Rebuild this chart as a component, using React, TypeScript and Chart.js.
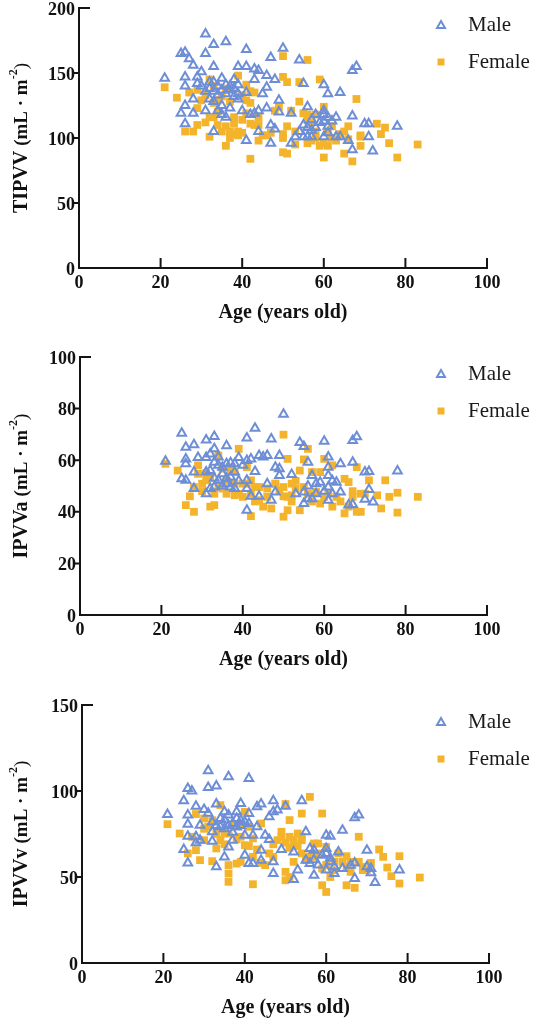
import React, { useEffect, useRef } from "react";
import { Chart, registerables } from "chart.js";

Chart.register(...registerables);

// ---- shared axis data ----
const AGE_TICKS = [0, 20, 40, 60, 80, 100];
const AGE_TITLE = "Age (years old)";
const SERIES_NAMES = ["Male", "Female"];
const MALE_COLOR = "#6d8ed6";
const FEMALE_COLOR = "#f3b42b";

// ---- TIPVV panel: [age, value] ----
const TIPVV_TICKS = [0, 50, 100, 150, 200];
const tipvvMale: [number, number][] = [
  [21, 146], [25, 165], [26, 166], [27, 161], [31, 180], [31, 165], [33, 172], [36, 174],
  [33, 155], [28, 156], [30, 151], [26, 147], [29, 147], [29, 142], [26, 140], [41, 168],
  [39, 155], [41, 155], [47, 162], [50, 169], [54, 160], [43, 153], [44, 152], [46, 148],
  [48, 145], [43, 145], [46, 139], [45, 134], [55, 142], [60, 141], [61, 134], [64, 135],
  [67, 152], [68, 155], [67, 117], [70, 111], [71, 111], [78, 109], [71, 101], [72, 90],
  [67, 91], [66, 98], [64, 101], [63, 101], [60, 101], [61, 109], [61, 116], [63, 116],
  [60, 121], [60, 118], [56, 124], [55, 110], [56, 108], [57, 114], [58, 118], [54, 105],
  [55, 101], [56, 101], [57, 101], [53, 101], [52, 96], [52, 119], [49, 120], [49, 129],
  [47, 110], [48, 107], [47, 96], [44, 105], [41, 98], [42, 118], [43, 119], [44, 121],
  [46, 123], [40, 121], [41, 135], [39, 134], [38, 145], [38, 132], [37, 123], [36, 116],
  [35, 118], [34, 121], [33, 105], [31, 121], [32, 130], [32, 143], [33, 143], [34, 140],
  [35, 146], [35, 137], [36, 134], [37, 140], [28, 130], [28, 119], [26, 125], [25, 119],
  [26, 111], [33, 136], [31, 136], [30, 140], [39, 141], [32, 138], [34, 133], [36, 141],
  [37, 137], [38, 138], [39, 130], [33, 128], [35, 125], [58, 108], [59, 112], [62, 113],
  [61, 104], [57, 106], [60, 113],
];
const tipvvFemale: [number, number][] = [
  [21, 139], [24, 131], [26, 105], [28, 105], [29, 110], [27, 135], [29, 137], [32, 101],
  [33, 116], [32, 145], [34, 129], [36, 109], [36, 94], [37, 105], [38, 103], [39, 105],
  [39, 148], [41, 141], [41, 129], [42, 136], [42, 111], [43, 110], [42, 84], [44, 98],
  [46, 102], [50, 163], [50, 147], [51, 143], [50, 103], [50, 100], [50, 89], [51, 88],
  [53, 95], [54, 128], [54, 143], [56, 160], [56, 114], [56, 96], [57, 98], [59, 145],
  [60, 124], [59, 94], [60, 85], [61, 94], [62, 109], [65, 88], [66, 109], [67, 82],
  [68, 130], [69, 101], [69, 94], [73, 111], [74, 103], [75, 108], [76, 96], [78, 85],
  [83, 95], [32, 116], [29, 123], [30, 129], [33, 127], [35, 132], [38, 116], [38, 111],
  [40, 114], [42, 127], [44, 116], [48, 121], [49, 124], [52, 121], [55, 119], [56, 118],
  [58, 118], [61, 105], [64, 103], [65, 105], [69, 102], [53, 105], [51, 109], [58, 105],
  [35, 105], [39, 102], [45, 102], [31, 133], [33, 140], [34, 120], [36, 138], [37, 128],
  [40, 133], [41, 119], [43, 135], [44, 110], [47, 104], [57, 112], [58, 100], [60, 96],
  [62, 100], [63, 98], [66, 99], [31, 112], [34, 110], [37, 100], [40, 104],
];

// ---- IPVVa panel: [age, value] ----
const IPVVA_TICKS = [0, 20, 40, 60, 80, 100];
const ipvvaMale: [number, number][] = [
  [21, 59.6], [25, 70.4], [26, 65], [26, 60.5], [26, 58.6], [25, 52.8], [26, 52.2], [28, 66],
  [28, 55.4], [28, 49], [29, 61], [31, 67.8], [33, 69.2], [31, 61], [32, 62.4], [33, 64.4],
  [33, 59.2], [31, 55.4], [31, 47], [32, 49], [33, 49.6], [34, 52.2], [35, 57.3], [36, 65.6],
  [35, 54.7], [36, 50.9], [37, 53.5], [38, 55.4], [38, 49], [38, 58.6], [39, 61], [41, 68.6],
  [41, 59.9], [42, 60.5], [43, 72.4], [41, 52.2], [41, 49], [41, 40.6], [42, 46], [44, 46],
  [43, 55.6], [44, 61.8], [45, 61.2], [46, 61.8], [47, 68.2], [46, 50.9], [47, 44.5], [48, 47.7],
  [48, 57.3], [49, 61.8], [49, 56.7], [49, 54.1], [50, 77.8], [52, 54.5], [53, 47], [54, 66.9],
  [55, 65.3], [56, 59.2], [55, 47.7], [55, 43.2], [57, 54.1], [58, 50.9], [56, 45.1], [57, 45.1],
  [60, 67.3], [61, 61.2], [61, 57.3], [61, 54.1], [59, 51.5], [61, 49.6], [61, 44.5], [62, 47],
  [63, 51.5], [64, 58.6], [64, 47.7], [67, 67.6], [68, 69.1], [67, 59.2], [66, 42.6], [67, 42.8],
  [70, 55.4], [71, 55.6], [71, 48.6], [70, 44.9], [72, 43.8], [78, 55.8], [36, 58.6], [34, 61.2],
  [37, 49.6], [32, 56], [33, 53], [34, 58], [35, 50], [36, 53], [37, 59], [39, 52],
  [40, 58], [56, 50], [58, 47], [60, 48], [62, 52],
];
const ipvvaFemale: [number, number][] = [
  [21, 58.6], [24, 56], [26, 42.6], [27, 46], [28, 40], [29, 54.7], [29, 58], [31, 52.2],
  [32, 42], [33, 42.6], [34, 61.8], [35, 56.7], [36, 47], [38, 46.4], [39, 64.4], [40, 45.8],
  [41, 57.3], [42, 38.3], [43, 49.6], [45, 42], [47, 41.3], [48, 50.9], [50, 69.9], [51, 60.5],
  [50, 38.1], [51, 40.6], [52, 46.4], [54, 40.6], [54, 56], [55, 60.3], [56, 64.4], [57, 55.4],
  [59, 55.4], [60, 60.5], [60, 45.8], [62, 42], [62, 58], [65, 39.4], [65, 52.8], [66, 51.5],
  [67, 45.8], [68, 57.3], [68, 40], [69, 40], [69, 47], [71, 52.2], [73, 46.4], [74, 41.3],
  [75, 52.2], [76, 45.8], [78, 47.4], [78, 39.7], [83, 45.8], [28, 49.6], [30, 50.9], [32, 53.5],
  [37, 56], [38, 50.9], [40, 50.9], [42, 52.2], [44, 49.6], [48, 50.9], [49, 48.3], [50, 49.6],
  [51, 45.8], [52, 50.9], [53, 49], [55, 49.6], [58, 47.7], [59, 43.2], [63, 45.8], [66, 42],
  [44, 44.5], [46, 45.8], [38, 55.4], [41, 50.9], [30, 48], [31, 55], [33, 47], [34, 50],
  [35, 49], [36, 52], [39, 47], [42, 47], [43, 44], [46, 49], [50, 46], [52, 44],
  [53, 52], [56, 47], [57, 44], [61, 47], [64, 44], [67, 48], [70, 47],
];

// ---- IPVVv panel: [age, value] ----
const IPVVV_TICKS = [0, 50, 100, 150];
const ipvvvMale: [number, number][] = [
  [21, 86.4], [25, 94.3], [26, 101.5], [27, 100], [26, 86], [26, 80.7], [26, 73.7], [25, 66],
  [26, 58.2], [28, 91.2], [28, 73.4], [28, 69.9], [29, 80.1], [30, 89.3], [31, 111.8], [31, 102],
  [33, 102.9], [36, 108.3], [41, 107.3], [33, 92.4], [35, 87.9], [35, 83.1], [31, 87], [32, 82],
  [32, 76.3], [32, 70.8], [33, 55.9], [35, 61.7], [36, 67.5], [37, 71.4], [37, 81.1], [38, 84],
  [39, 83], [39, 92.8], [40, 74.3], [40, 62.7], [41, 57.8], [42, 57.8], [42, 74.3], [43, 79.2],
  [43, 90.8], [44, 92.4], [41, 86.9], [41, 81.1], [44, 65.6], [44, 59.8], [45, 74.3], [46, 71.8],
  [46, 85], [47, 87.9], [47, 94.3], [48, 88.9], [50, 91.2], [49, 66], [47, 58.8], [47, 52],
  [52, 64.6], [52, 48.5], [53, 54], [54, 94.3], [55, 76.3], [55, 59.8], [56, 66.6], [57, 65.6],
  [56, 57.8], [57, 51], [59, 62.7], [60, 74.3], [61, 73.7], [60, 66.6], [60, 63.7], [60, 54],
  [61, 58.8], [62, 52], [63, 64.6], [64, 77.2], [64, 54.9], [66, 56.9], [67, 58.2], [67, 49.1],
  [67, 84.4], [68, 86], [70, 65.6], [70, 55.9], [71, 52.4], [72, 46.8], [78, 54], [71, 54.9],
  [29, 71.4], [34, 79.2], [36, 86], [38, 87.9], [33, 80], [34, 84], [35, 78], [36, 80],
  [37, 76], [38, 79], [39, 80], [40, 82], [57, 60], [58, 57], [61, 61], [62, 56],
];
const ipvvvFemale: [number, number][] = [
  [21, 80.7], [24, 75.3], [26, 63.7], [28, 65.6], [29, 59.8], [28, 86.6], [32, 59.2], [33, 66.6],
  [30, 71.4], [36, 56.9], [36, 47.2], [36, 52], [34, 91.8], [38, 57.8], [39, 58.8], [40, 87.9],
  [40, 68.5], [42, 45.8], [42, 61.7], [44, 58.2], [45, 56.9], [47, 61.7], [49, 76.3], [50, 92.4],
  [51, 83.1], [50, 53], [50, 48.1], [51, 50], [51, 73.4], [52, 71.4], [53, 75.3], [54, 86.9],
  [54, 73.4], [54, 63.7], [52, 58.8], [56, 96.6], [57, 69.5], [58, 69.5], [59, 86.9], [59, 45.2],
  [60, 41.3], [59, 54.9], [61, 50], [62, 58.8], [65, 62.1], [65, 45.2], [67, 43.7], [66, 53],
  [68, 73.4], [69, 54], [71, 58.2], [73, 66], [74, 61.7], [75, 55.5], [76, 50.5], [78, 62.1],
  [78, 46.2], [83, 49.7], [27, 73.4], [30, 84], [31, 79.2], [34, 71.4], [35, 75.3], [36, 75.3],
  [39, 73.4], [39, 81.1], [41, 79.2], [42, 72.4], [44, 81.1], [46, 63.7], [48, 71.4], [49, 73.4],
  [52, 69.5], [54, 71.4], [55, 59.8], [57, 61.7], [58, 63.7], [60, 67.5], [63, 63.7], [64, 58.8],
  [66, 58.8], [68, 58.8], [69, 55.9], [30, 78], [32, 83], [33, 75], [35, 69], [37, 80],
  [38, 72], [41, 68], [43, 66], [47, 69], [50, 70], [51, 67], [53, 68], [56, 62],
  [60, 57], [62, 54], [65, 56], [70, 54],
];

const SERIF = '"Liberation Serif", "Times New Roman", serif';

type PanelSpec = {
  name: string;
  yTicks: number[];
  male: [number, number][];
  female: [number, number][];
  height: number;
  area: { left: number; right: number; top: number; bottom: number };
};

const PANELS: PanelSpec[] = [
  { name: "TIPVV", yTicks: TIPVV_TICKS, male: tipvvMale, female: tipvvFemale, height: 349,
    area: { left: 79, right: 487, top: 8, bottom: 268 } },
  { name: "IPVVa", yTicks: IPVVA_TICKS, male: ipvvaMale, female: ipvvaFemale, height: 349,
    area: { left: 80, right: 487, top: 8, bottom: 266 } },
  { name: "IPVVv", yTicks: IPVVV_TICKS, male: ipvvvMale, female: ipvvvFemale, height: 328,
    area: { left: 82, right: 489, top: 7, bottom: 265 } },
];

const WIDTH = 537;

// Draws the L-shaped frame, tick marks, tick labels, axis titles and legend.
const frameAxesPlugin = {
  id: "frameAxes",
  afterDraw(chart: any, _args: any, opts: any) {
    const { ctx, scales } = chart;
    const xs = scales.x;
    const ys = scales.y;
    const yTicks: number[] = opts.yTicks;
    const left = xs.getPixelForValue(0);
    const right = xs.getPixelForValue(100);
    const bottom = ys.getPixelForValue(0);
    const top = ys.getPixelForValue(yTicks[yTicks.length - 1]);

    ctx.save();
    ctx.strokeStyle = "#141414";
    ctx.lineWidth = 2;
    ctx.lineCap = "square";
    ctx.beginPath();
    ctx.moveTo(left, top);
    ctx.lineTo(left, bottom);
    ctx.lineTo(right, bottom);
    ctx.stroke();

    // y ticks: outward, the top one turns inward
    ctx.beginPath();
    yTicks.forEach((v, i) => {
      const py = ys.getPixelForValue(v);
      if (i === yTicks.length - 1) {
        ctx.moveTo(left, py);
        ctx.lineTo(left + 10, py);
      } else if (v !== 0) {
        ctx.moveTo(left - 6, py);
        ctx.lineTo(left, py);
      }
    });
    // x ticks point upward into the plot
    AGE_TICKS.forEach((v) => {
      if (v === 0) return;
      const px = xs.getPixelForValue(v);
      ctx.moveTo(px, bottom);
      ctx.lineTo(px, bottom - 9);
    });
    ctx.stroke();

    ctx.fillStyle = "#111";
    ctx.font = `bold 18px ${SERIF}`;
    ctx.textAlign = "right";
    ctx.textBaseline = "middle";
    yTicks.forEach((v) => {
      ctx.fillText(String(v), left - 4, ys.getPixelForValue(v) + 2);
    });
    ctx.textAlign = "center";
    AGE_TICKS.forEach((v) => {
      ctx.fillText(String(v), xs.getPixelForValue(v), bottom + 15);
    });

    // x title
    ctx.font = `bold 20px ${SERIF}`;
    ctx.fillText(AGE_TITLE, (left + right) / 2, bottom + 45);

    // y title with superscript unit
    const parts = [
      { t: opts.name + " ", f: `bold 20px ${SERIF}`, dy: 0 },
      { t: "(mL · m", f: `bold 19px ${SERIF}`, dy: 0 },
      { t: "-2", f: `bold 12px ${SERIF}`, dy: -8 },
      { t: ")", f: `19px ${SERIF}`, dy: 0 },
    ];
    let total = 0;
    parts.forEach((p) => {
      ctx.font = p.f;
      total += ctx.measureText(p.t).width;
    });
    ctx.save();
    ctx.translate(22, (top + bottom) / 2);
    ctx.rotate(-Math.PI / 2);
    ctx.textAlign = "left";
    let cx = -total / 2;
    parts.forEach((p) => {
      ctx.font = p.f;
      ctx.fillText(p.t, cx, p.dy);
      cx += ctx.measureText(p.t).width;
    });
    ctx.restore();

    // legend
    const lx = 441;
    const rows = [top + 17, top + 54];
    ctx.font = `21px ${SERIF}`;
    ctx.textAlign = "left";
    ctx.fillStyle = "#1a1a1a";
    ctx.fillText(SERIES_NAMES[0], 468, rows[0]);
    ctx.fillText(SERIES_NAMES[1], 468, rows[1]);
    ctx.strokeStyle = MALE_COLOR;
    ctx.lineWidth = 2;
    ctx.beginPath();
    ctx.moveTo(lx, rows[0] - 4);
    ctx.lineTo(lx + 4, rows[0] + 3);
    ctx.lineTo(lx - 4, rows[0] + 3);
    ctx.closePath();
    ctx.stroke();
    ctx.fillStyle = FEMALE_COLOR;
    ctx.fillRect(lx - 3.5, rows[1] - 3.5, 7, 7);
    ctx.restore();
  },
};

function Panel({ spec }: { spec: PanelSpec }) {
  const ref = useRef<HTMLCanvasElement>(null);
  useEffect(() => {
    if (!ref.current) return;
    const a = spec.area;
    const chart = new Chart(ref.current, {
      type: "scatter",
      data: {
        datasets: [
          {
            label: SERIES_NAMES[0],
            data: spec.male.map(([x, y]) => ({ x, y })),
            pointStyle: "triangle",
            pointRadius: 5,
            borderWidth: 2,
            borderColor: MALE_COLOR,
            backgroundColor: "rgba(255,255,255,0)",
          },
          {
            label: SERIES_NAMES[1],
            data: spec.female.map(([x, y]) => ({ x, y })),
            pointStyle: "rect",
            pointRadius: 5.5,
            borderWidth: 0,
            borderColor: FEMALE_COLOR,
            backgroundColor: FEMALE_COLOR,
          },
        ],
      },
      options: {
        responsive: false,
        devicePixelRatio: 1,
        animation: false,
        layout: {
          padding: { left: a.left, right: WIDTH - a.right, top: a.top, bottom: spec.height - a.bottom },
        },
        scales: {
          x: { type: "linear", min: 0, max: 100, display: false },
          y: { type: "linear", min: 0, max: spec.yTicks[spec.yTicks.length - 1], display: false },
        },
        plugins: {
          legend: { display: false },
          tooltip: { enabled: false },
          frameAxes: { yTicks: spec.yTicks, name: spec.name },
        } as any,
      },
      plugins: [frameAxesPlugin],
    });
    return () => chart.destroy();
  }, [spec]);
  return <canvas ref={ref} width={WIDTH} height={spec.height} style={{ display: "block", width: WIDTH, height: spec.height }} />;
}

export default function App() {
  return (
    <div style={{ position: "absolute", left: 0, top: 0, width: WIDTH, background: "#fff" }}>
      {PANELS.map((p) => (
        <Panel key={p.name} spec={p} />
      ))}
    </div>
  );
}
